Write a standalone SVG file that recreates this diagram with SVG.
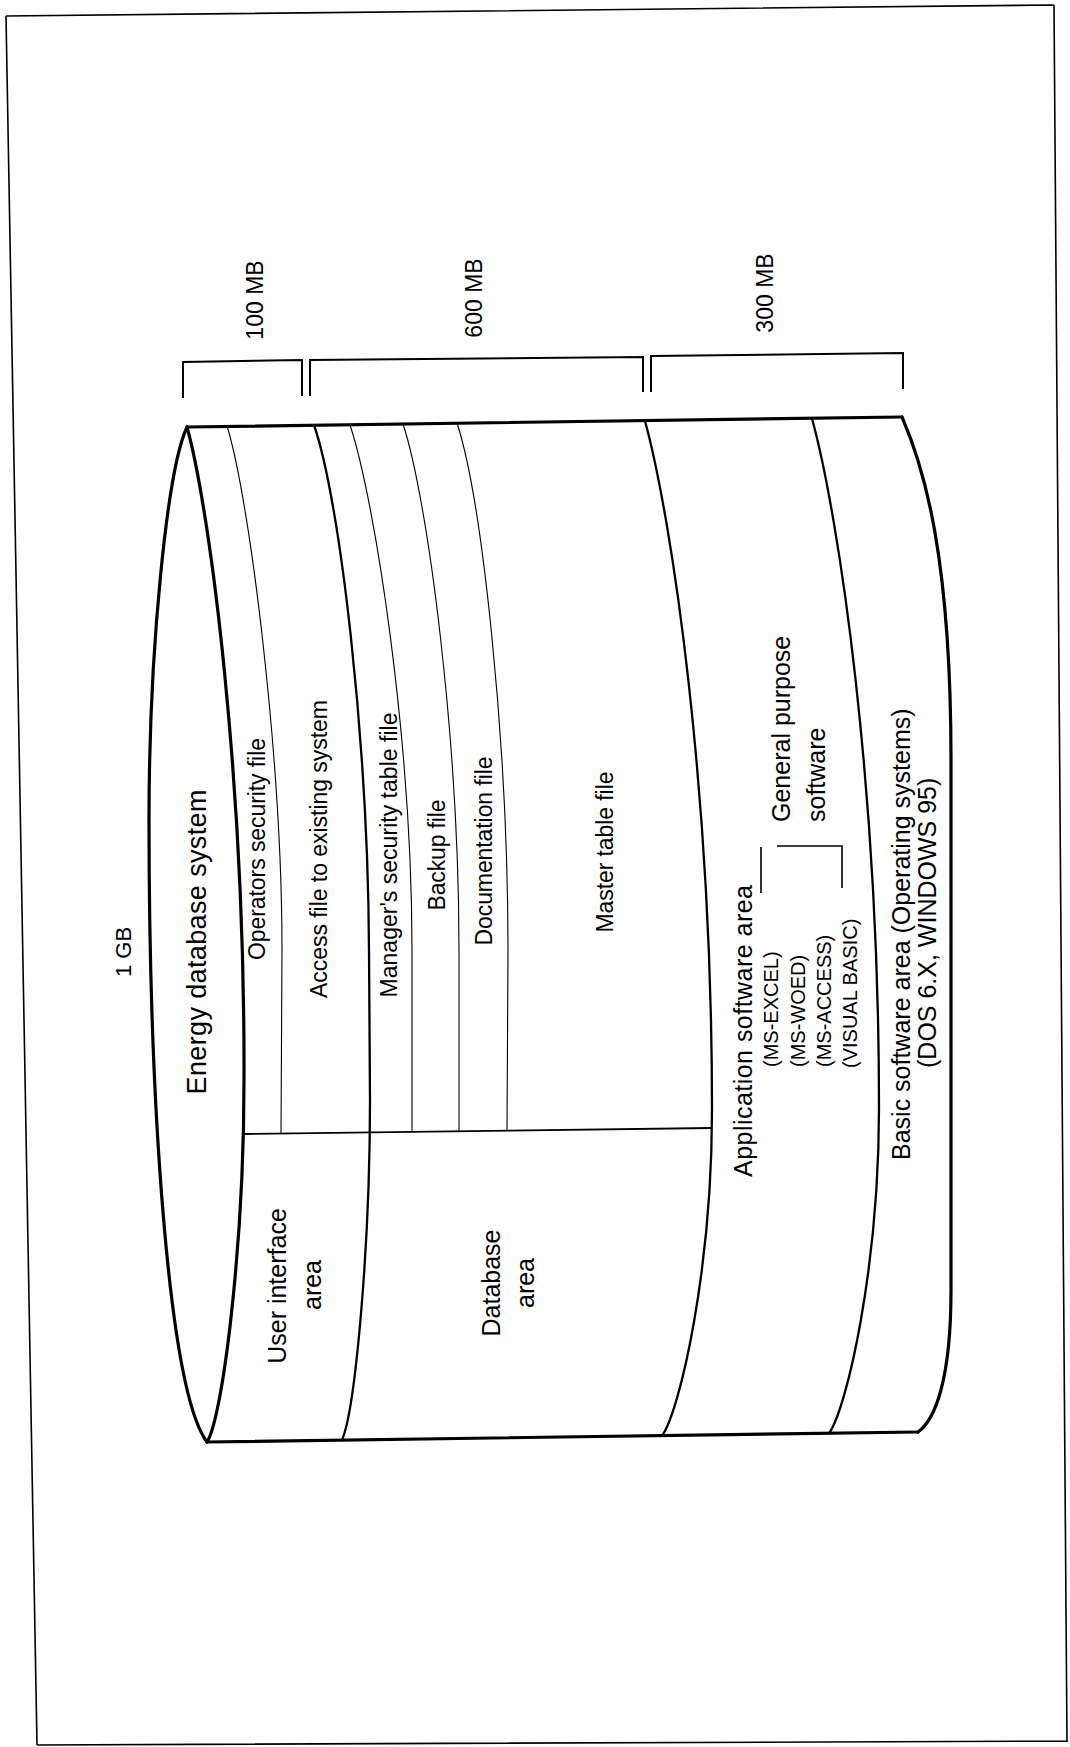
<svg xmlns="http://www.w3.org/2000/svg" xmlns:xlink="http://www.w3.org/1999/xlink" width="1070" height="1747" viewBox="0 0 1070 1747">
<style>
text{font-family:"Liberation Sans",Arial,Helvetica,sans-serif;fill:#000}
.s20{font-size:20px}
.s22{font-size:22px}
.s23{font-size:23px}
.s25{font-size:25px}
.s27{font-size:27px}
.m{text-anchor:middle}
.st{text-anchor:start}
.outer{fill:none;stroke:#000;stroke-width:3.2;stroke-linecap:round;stroke-linejoin:round}
.div{fill:none;stroke:#000;stroke-width:2.3}
.thin{fill:none;stroke:#000;stroke-width:1.1}
.brk{fill:none;stroke:#000;stroke-width:2}
.frame{fill:none;stroke:#000;stroke-width:1.6}
</style>
<defs>
<path id="appArc" d="M645,421 C672,520 712,790 712,1110 C712,1270 680,1410 662,1436"/>
</defs>
<rect width="1070" height="1747" fill="#fff"/>
<g id="frame">
<path class="frame" d="M6,16 L1054,5 M6,16 L37,1745 M1054,5 L1067,1742 M37,1745 L1067,1741"/>
</g>
<g id="cylinder">
<path class="outer" d="M187,427 C167,470 149,650 149,820 C149,1100 168,1390 207,1442"/>
<path class="outer" d="M187,427 C210,510 245,780 244,1080 C244,1250 222,1420 207,1442"/>
<path class="outer" d="M187,427 L902,417"/>
<path class="outer" d="M207,1442 L918,1432"/>
<path class="outer" d="M902,417 C925,470 951,560 951,760 L951,1290 C951,1380 935,1420 918,1432"/>
</g>
<g id="connectors">
<path class="thin" d="M227,426 C250,500 282,760 282,950 L281,1133"/>
<path class="div" d="M314,425 C340,500 368,740 369,950 L370,1100 C370,1250 355,1410 342,1440"/>
<path class="thin" d="M350,425 C375,500 412,740 412,950 L412,1132"/>
<path class="thin" d="M403,424 C428,500 459,740 459,950 L459,1131"/>
<path class="thin" d="M457,423 C482,500 508,740 508,950 L507,1131"/>
<path class="div" d="M244,1134 L712,1128" style="stroke-width:1.8"/>
<use xlink:href="#appArc" class="div"/>
<use xlink:href="#appArc" class="div" transform="translate(167,-2.5)"/>
<path class="brk" d="M183,398 L183,362 L302,360 L302,396"/>
<path class="brk" d="M310,396 L310,360 L643,357 L643,392"/>
<path class="brk" d="M651,392 L651,356 L903,353 L903,389"/>
<path class="thin" style="stroke-width:1.6" d="M761,847 L761,893 M777,846 L842,846 L842,888"/>
</g>
<g id="label-sizes">
<text class="s23 m" transform="translate(263,300) rotate(-90)">100 MB</text>
<text class="s23 m" transform="translate(482,298) rotate(-90)">600 MB</text>
<text class="s23 m" transform="translate(773,293) rotate(-90)">300 MB</text>
<text class="s22 m" transform="translate(131,952) rotate(-90)">1 GB</text>
</g>
<g id="node-energy">
<text class="s27 m" transform="translate(206,942) rotate(-90)" textLength="305">Energy database system</text>
</g>
<g id="node-operators">
<text class="s23 m" transform="translate(265,849) rotate(-90)" textLength="222">Operators security file</text>
</g>
<g id="node-access">
<text class="s23 m" transform="translate(327,849) rotate(-90)" textLength="298">Access file to existing system</text>
</g>
<g id="node-manager">
<text class="s23 m" transform="translate(397,855) rotate(-90)" textLength="285">Manager's security table file</text>
</g>
<g id="node-backup">
<text class="s23 m" transform="translate(445,855) rotate(-90)" textLength="111">Backup file</text>
</g>
<g id="node-documentation">
<text class="s23 m" transform="translate(492,851) rotate(-90)" textLength="189">Documentation file</text>
</g>
<g id="node-master">
<text class="s23 m" transform="translate(613,852) rotate(-90)" textLength="161">Master table file</text>
</g>
<g id="node-ui">
<text class="s25 m" transform="translate(286,1286) rotate(-90)">User interface</text>
<text class="s25 m" transform="translate(321,1285) rotate(-90)">area</text>
</g>
<g id="node-database">
<text class="s25 m" transform="translate(500,1283) rotate(-90)">Database</text>
<text class="s25 m" transform="translate(534,1283) rotate(-90)">area</text>
</g>
<g id="node-application">
<text class="s25 st" transform="translate(752,1177) rotate(-90)" textLength="292">Application software area</text>
<text class="s20 st" transform="translate(778,1067) rotate(-90)">(MS-EXCEL)</text>
<text class="s20 st" transform="translate(805,1067) rotate(-90)">(MS-WOED)</text>
<text class="s20 st" transform="translate(831,1067) rotate(-90)">(MS-ACCESS)</text>
<text class="s20 st" transform="translate(857,1068) rotate(-90)">(VISUAL BASIC)</text>
</g>
<g id="node-general">
<text class="s25 st" transform="translate(790,822) rotate(-90)">General purpose</text>
<text class="s25 st" transform="translate(825,822) rotate(-90)">software</text>
</g>
<g id="node-basic">
<text class="s25 st" transform="translate(910,1160) rotate(-90)">Basic software area (Operating systems)</text>
<text class="s25 st" transform="translate(936,1068) rotate(-90)">(DOS 6.X, WINDOWS 95)</text>
</g>
</svg>
